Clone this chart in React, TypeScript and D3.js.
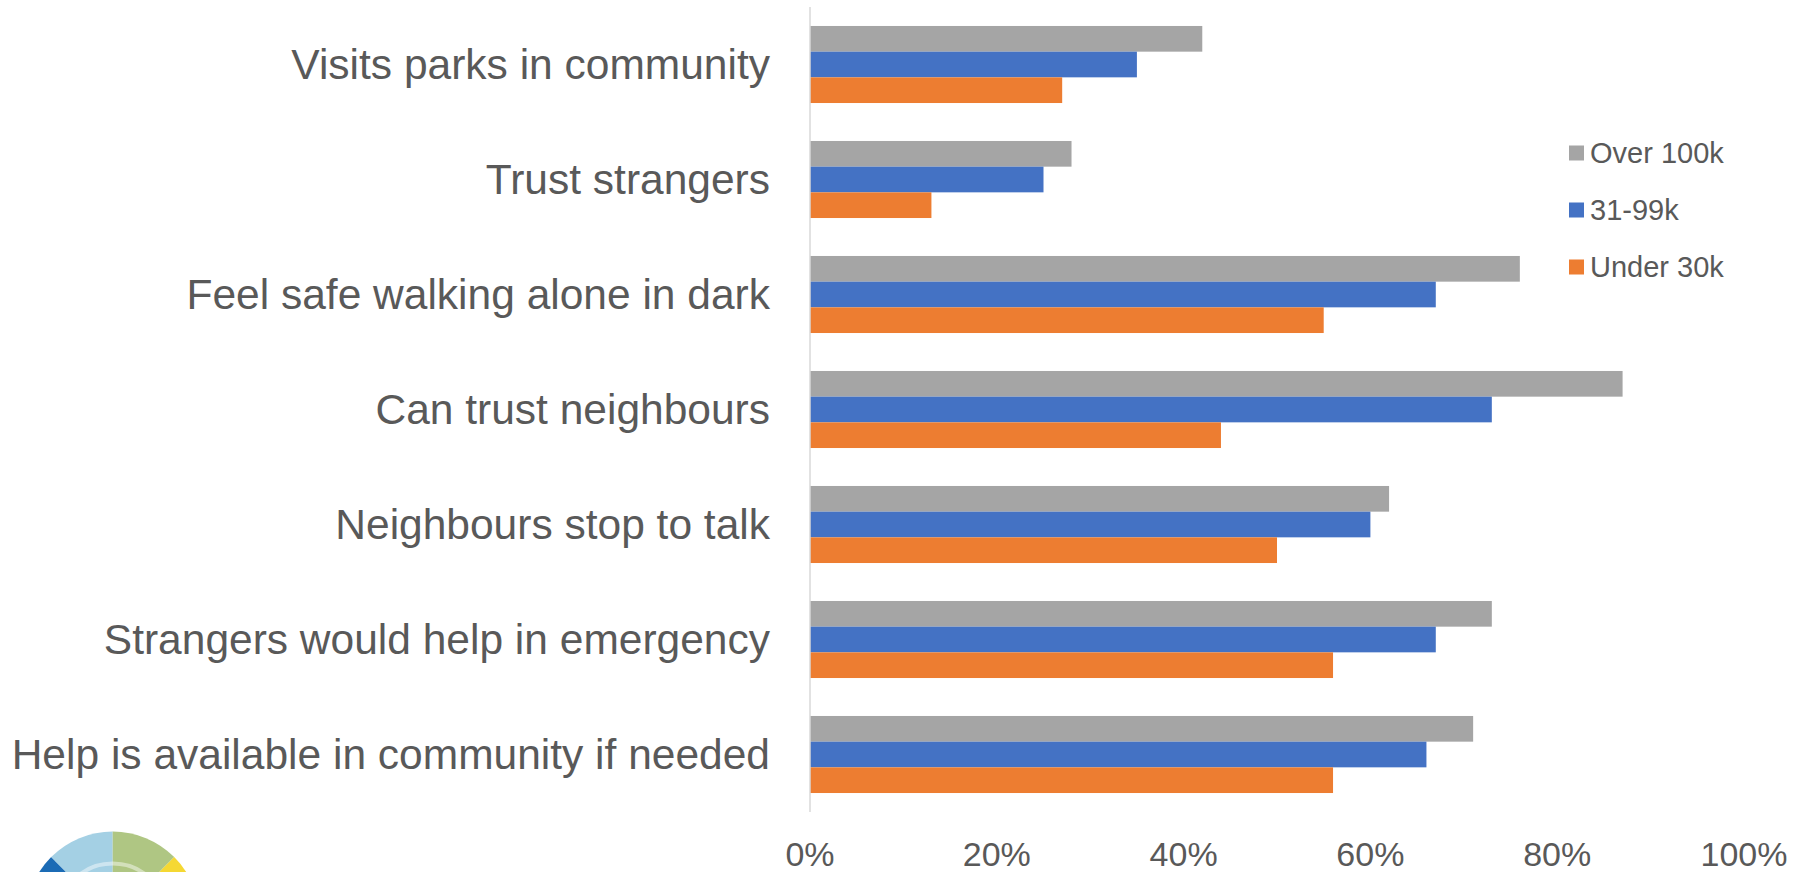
import React from "react";
import * as d3 from "d3";

const categories = [
  "Visits parks in community",
  "Trust strangers",
  "Feel safe walking alone in dark",
  "Can trust neighbours",
  "Neighbours stop to talk",
  "Strangers would help in emergency",
  "Help is available in community if needed",
];
const seriesNames = ["Over 100k", "31-99k", "Under 30k"];
const over100k = [42, 28, 76, 87, 62, 73, 71];
const mid31to99k = [35, 25, 67, 73, 60, 67, 66];
const under30k = [27, 13, 55, 44, 50, 56, 56];
const seriesValues = [over100k, mid31to99k, under30k];
const seriesColors = ["#A5A5A5", "#4472C4", "#ED7D31"];
const xTicks = [0, 20, 40, 60, 80, 100];

const logoColors = ["#1B6BB5", "#A4D0E4", "#AFC683", "#F5D833"];

export default function App() {
  const W = 1808;
  const H = 872;
  const x = d3.scaleLinear().domain([0, 100]).range([810, 1744]);
  const y = d3
    .scaleBand<string>()
    .domain(categories)
    .range([7, 812])
    .paddingInner(0.33)
    .paddingOuter(0.165);
  const sub = d3
    .scaleBand<string>()
    .domain(seriesNames)
    .range([0, y.bandwidth()]);

  const font = "'Liberation Sans', Arial, sans-serif";
  const textColor = "#595959";

  const arc = d3.arc<any>();
  const cx = 112.7;
  const cy = 918.6;
  const R = 87;

  return (
    <svg
      width={W}
      height={H}
      style={{ position: "absolute", left: 0, top: 0, background: "#fff" }}
    >
      {/* bars */}
      {categories.map((c, i) => (
        <g key={c}>
          {seriesNames.map((s, k) => (
            <rect
              key={s}
              x={x(0)}
              y={(y(c) as number) + (sub(s) as number)}
              width={x(seriesValues[k][i]) - x(0)}
              height={sub.bandwidth()}
              fill={seriesColors[k]}
            />
          ))}
        </g>
      ))}
      {/* axis line */}
      <line x1={x(0)} x2={x(0)} y1={7} y2={812} stroke="#D9D9D9" strokeWidth={1.5} />
      {/* category labels */}
      {categories.map((c) => (
        <text
          key={c}
          x={770}
          y={(y(c) as number) + y.bandwidth() / 2}
          textAnchor="end"
          dominantBaseline="central"
          fontFamily={font}
          fontSize={42.5}
          fill={textColor}
        >
          {c}
        </text>
      ))}
      {/* x tick labels */}
      {xTicks.map((t) => (
        <text
          key={t}
          x={x(t)}
          y={866}
          textAnchor="middle"
          fontFamily={font}
          fontSize={34}
          fill={textColor}
        >
          {t + "%"}
        </text>
      ))}
      {/* legend */}
      {seriesNames.map((s, k) => (
        <g key={s} transform={`translate(1569, ${153 + k * 57})`}>
          <rect x={0} y={-7.5} width={15} height={15} fill={seriesColors[k]} />
          <text
            x={21}
            y={0}
            dominantBaseline="central"
            fontFamily={font}
            fontSize={29}
            fill={textColor}
          >
            {s}
          </text>
        </g>
      ))}
      {/* logo */}
      <g transform={`translate(${cx}, ${cy})`}>
        {logoColors.map((col, i) => (
          <path
            key={i}
            d={
              arc({
                innerRadius: 0,
                outerRadius: R,
                startAngle: (-Math.PI / 2) + (i * Math.PI) / 4,
                endAngle: (-Math.PI / 2) + ((i + 1) * Math.PI) / 4,
              }) as string
            }
            fill={col}
          />
        ))}
        <circle r={55} fill="none" stroke="#fff" strokeOpacity={0.45} strokeWidth={4} />
      </g>
    </svg>
  );
}
